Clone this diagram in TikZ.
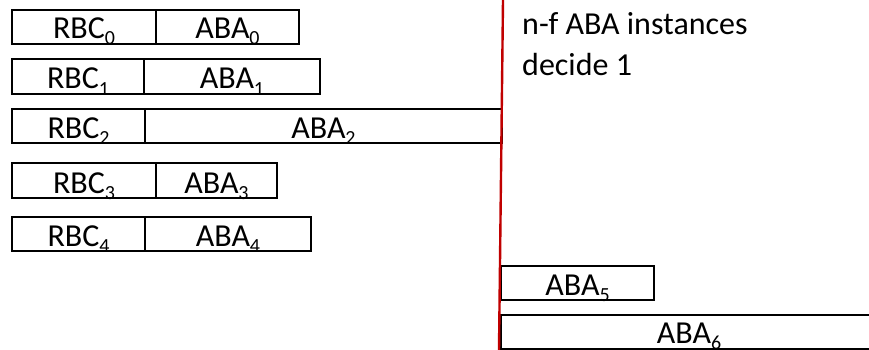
\documentclass[tikz,border=0pt]{standalone}
\usepackage{fontspec}
\setmainfont{Carlito}
\newcommand{\subn}[1]{\raisebox{-6pt}{\fontsize{20pt}{20pt}\selectfont #1}}
\definecolor{redline}{HTML}{C00000}
\begin{document}
\begin{tikzpicture}[x=1pt,y=-1pt,
  cell/.style={draw=black, line width=1.6pt, anchor=north west, inner sep=0pt, outer sep=0pt, minimum height=34pt},
  lbl/.style={anchor=base, inner sep=0pt, font=\fontsize{32pt}{38pt}\selectfont},
  note/.style={anchor=base west, inner sep=0pt, font=\fontsize{32pt}{38pt}\selectfont}]
\useasboundingbox (0,0) rectangle (869,350);
\clip (0,0) rectangle (869,350);
% row 0
\node[cell, minimum width=144pt] (r0) at (12,10) {};
\node[cell, minimum width=143pt] (a0) at (156,10) {};
% row 1
\node[cell, minimum width=132pt, minimum height=35pt] (r1) at (12,59) {};
\node[cell, minimum width=176pt, minimum height=35pt] (a1) at (144,59) {};
% row 2
\node[cell, minimum width=133pt] (r2) at (12,109) {};
\node[cell, minimum width=357pt] (a2) at (145,109) {};
% row 3
\node[cell, minimum width=144pt, minimum height=35pt] (r3) at (12,163) {};
\node[cell, minimum width=121pt, minimum height=35pt] (a3) at (156,163) {};
% row 4
\node[cell, minimum width=133pt] (r4) at (12,217) {};
\node[cell, minimum width=166pt] (a4) at (145,217) {};
% right side
\node[cell, minimum width=153pt] (a5) at (501,266) {};
\node[cell, minimum width=380pt] (a6) at (501,315) {};
% labels
\foreach \n/\t in {r0/RBC\subn{0}, a0/ABA\subn{0}, r1/RBC\subn{1}, a1/ABA\subn{1}, r2/RBC\subn{2}, a2/ABA\subn{2}, r3/RBC\subn{3}, a3/ABA\subn{3}, r4/RBC\subn{4}, a4/ABA\subn{4}, a5/ABA\subn{5}}
  \node[lbl] at ([yshift=5pt]\n.south) {\t};
\node[lbl] (l6) at ([yshift=6pt]a6.south -| 689,0) {ABA\subn{6}};
% red line
\coordinate (rtop) at (503,0);
\coordinate (rbot) at (499,350);
\draw[redline, line width=2.4pt] (rtop) -- (rbot);
% note
\node[note] (t1) at (522,35) {n-f ABA instances};
\node[note] (t2) at (522,76) {decide 1};
\end{tikzpicture}
\end{document}
